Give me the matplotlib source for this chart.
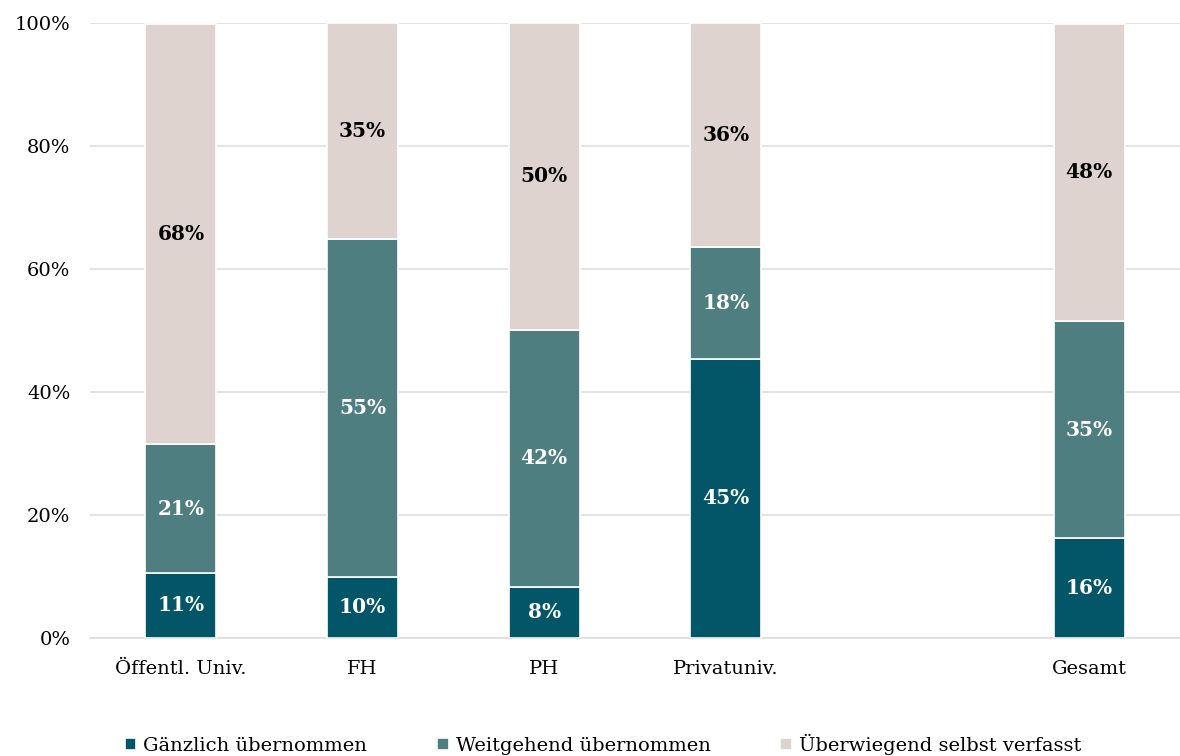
import matplotlib
matplotlib.use("Agg")
from matplotlib import pyplot as plt
import numpy as np

plt.rcParams['font.family'] = ['DejaVu Serif']

categories = ["Öffentl. Univ.", "FH", "PH", "Privatuniv.", "Gesamt"]
positions = [0, 1, 2, 3, 5]
gaenzlich = [10.6, 10.0, 8.3, 45.4, 16.2]
weitgehend = [20.9, 54.9, 41.8, 18.2, 35.3]
selbst = [68.4, 35.1, 49.9, 36.4, 48.4]
series_names = ["Gänzlich übernommen", "Weitgehend übernommen", "Überwiegend selbst verfasst"]
colors = ["#035568", "#4e7e80", "#ded3cf"]
text_colors = ["white", "white", "black"]

fig = plt.figure(figsize=(11.8, 7.56), dpi=100)
ax = fig.add_axes([90 / 1180, 1 - 638 / 756, 1 - 90 / 1180, (638 - 23) / 756])

bottom = np.zeros(len(categories))
handles = []
for vals, name, col, tcol in zip([gaenzlich, weitgehend, selbst], series_names, colors, text_colors):
    vals = np.array(vals)
    b = ax.bar(positions, vals, bottom=bottom, width=0.39, color=col,
               edgecolor="white", linewidth=1.2, label=name, zorder=3)
    handles.append(b)
    for x, v, y0 in zip(positions, vals, bottom):
        if v >= 5:
            ax.text(x, y0 + v / 2, f"{v:.0f}%", ha="center", va="center",
                    color=tcol, fontsize=14.5, fontweight="bold", zorder=4)
    bottom = bottom + vals

ax.set_xlim(-0.5, 5.5)
ax.set_ylim(0, 100)
ax.set_yticks(np.arange(0, 101, 20))
ax.set_yticklabels([f"{t}%" for t in range(0, 101, 20)])
ax.set_xticks(positions)
ax.set_xticklabels(categories)
ax.yaxis.grid(True, color="#dedede", linewidth=1.2, zorder=0)
ax.tick_params(axis="both", length=0, labelsize=14, colors="black")
ax.tick_params(axis="x", pad=16)
ax.tick_params(axis="y", pad=14)
for s in ["top", "right", "left"]:
    ax.spines[s].set_visible(False)
ax.spines["bottom"].set_color("#dedede")
ax.spines["bottom"].set_linewidth(1.2)

fig.legend(handles=handles, labels=series_names, loc="lower center",
           bbox_to_anchor=(603 / 1180, -0.022), ncol=3, frameon=False,
           fontsize=14, handlelength=0.6, handleheight=0.6,
           handletextpad=0.35, columnspacing=3.6)

fig.savefig("out.png", dpi=100)
